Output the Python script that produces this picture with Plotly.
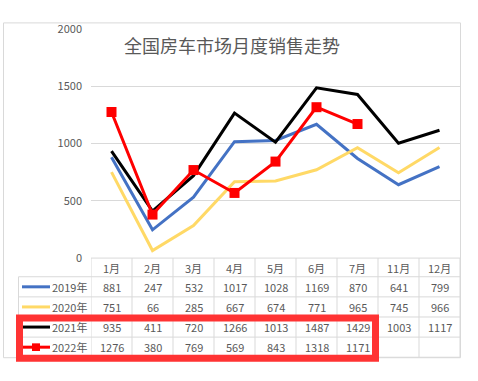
import plotly.graph_objects as go

# ---- data ----
months = ["1月", "2月", "3月", "4月", "5月", "6月", "7月", "11月", "12月"]
series_names = ["2019年", "2020年", "2021年", "2022年"]
v2019 = [881, 247, 532, 1017, 1028, 1169, 870, 641, 799]
v2020 = [751, 66, 285, 667, 674, 771, 965, 745, 966]
v2021 = [935, 411, 720, 1266, 1013, 1487, 1429, 1003, 1117]
v2022 = [1276, 380, 769, 569, 843, 1318, 1171]
y_ticks = [0, 500, 1000, 1500, 2000]
title_text = "全国房车市场月度销售走势"

W, H = 478, 381
def px(x):
    return x / W
def py(y):
    return 1 - y / H

colors = ["#4472C4", "#FFD966", "#000000", "#FF0000"]
all_vals = [v2019, v2020, v2021, v2022]
FONT = "Noto Sans CJK SC"
GRAY = "#595959"
GRID = "#D9D9D9"

fig = go.Figure()
for name, vals, c in zip(series_names, all_vals, colors):
    is22 = name == "2022年"
    fig.add_trace(go.Scatter(
        x=months[:len(vals)], y=vals, name=name,
        mode="lines+markers" if is22 else "lines",
        line=dict(color=c, width=3),
        marker=dict(symbol="square", size=10, color=c) if is22 else None,
        hoverinfo="skip", showlegend=False,
    ))

shapes = []
shapes.append(dict(type="rect", xref="paper", yref="paper",
                   x0=px(3.5), x1=px(460.5), y0=py(14.5), y1=py(364),
                   line=dict(color=GRID, width=1), layer="below"))

row_lines = [260, 279.5, 300.5, 321.5, 342.5, 363.5]
row_centers = [270, 290, 311, 332, 353]
tbl_left = 18.5
shapes.append(dict(type="line", xref="x", yref="paper", x0=-0.5, x1=len(months) - 0.5,
                   y0=py(row_lines[0]), y1=py(row_lines[0]), line=dict(color=GRID, width=1)))
for yl in row_lines[1:]:
    shapes.append(dict(type="line", xref="paper", yref="paper", x0=px(tbl_left), x1=px(460),
                       y0=py(yl), y1=py(yl), line=dict(color=GRID, width=1)))
for i in range(len(months) + 1):
    shapes.append(dict(type="line", xref="x", yref="paper", x0=i - 0.5, x1=i - 0.5,
                       y0=py(row_lines[0]), y1=py(row_lines[-1]), line=dict(color=GRID, width=1)))
shapes.append(dict(type="line", xref="paper", yref="paper", x0=px(tbl_left), x1=px(tbl_left),
                   y0=py(row_lines[1]), y1=py(row_lines[-1]), line=dict(color=GRID, width=1)))

annotations = []
annotations.append(dict(text=title_text, x=px(232), y=py(38), xref="paper", yref="paper",
                        showarrow=False, font=dict(family=FONT, size=18, color=GRAY),
                        xanchor="center", yanchor="middle"))
for m in months:
    annotations.append(dict(text=m, x=m, y=py(row_centers[0]), xref="x", yref="paper",
                            showarrow=False, font=dict(family=FONT, size=11, color=GRAY),
                            xanchor="center", yanchor="middle"))
for r, (name, vals, c) in enumerate(zip(series_names, all_vals, colors)):
    yc = row_centers[r + 1]
    for m, v in zip(months, vals):
        annotations.append(dict(text=str(v), x=m, y=py(yc), xref="x", yref="paper",
                                showarrow=False, font=dict(family=FONT, size=11, color=GRAY),
                                xanchor="center", yanchor="middle"))
    annotations.append(dict(text=name, x=px(89), y=py(yc), xref="paper", yref="paper",
                            showarrow=False, font=dict(family=FONT, size=11, color=GRAY),
                            xanchor="right", yanchor="middle"))
    shapes.append(dict(type="line", xref="paper", yref="paper", x0=px(22), x1=px(50),
                       y0=py(yc), y1=py(yc), line=dict(color=c, width=3)))
    if name == "2022年":
        shapes.append(dict(type="rect", xref="paper", yref="paper", x0=px(32), x1=px(40),
                           y0=py(yc - 4), y1=py(yc + 4), line=dict(width=0), fillcolor=c))

shapes.append(dict(type="rect", xref="paper", yref="paper",
                   x0=px(19.5), x1=px(375.5), y0=py(322.5), y1=py(364.5),
                   line=dict(color="#FF3333", width=7), fillcolor="rgba(0,0,0,0)", layer="above"))

fig.update_layout(
    width=W, height=H, margin=dict(l=0, r=0, t=0, b=0),
    paper_bgcolor="white", plot_bgcolor="white",
    showlegend=False, hovermode=False,
    xaxis=dict(type="category", categoryorder="array", categoryarray=months,
               domain=[px(91), px(460)], range=[-0.5, len(months) - 0.5],
               showticklabels=False, showgrid=False, zeroline=False, showline=False, ticks=""),
    yaxis=dict(domain=[py(260), py(21)], range=[0, 2000], tickvals=y_ticks,
               showgrid=True, gridcolor=GRID, gridwidth=1, zeroline=False, showline=False,
               ticks="", ticklabelstandoff=8,
               tickfont=dict(family=FONT, size=11, color=GRAY)),
    shapes=shapes, annotations=annotations,
)

post = ("document.documentElement.style.margin='0';document.documentElement.style.padding='0';"
        "document.body.style.margin='0';document.body.style.padding='0';"
        "document.documentElement.style.overflow='hidden';document.body.style.overflow='hidden';")
fig.write_html("out.html", config={"displayModeBar": False}, post_script=post)
